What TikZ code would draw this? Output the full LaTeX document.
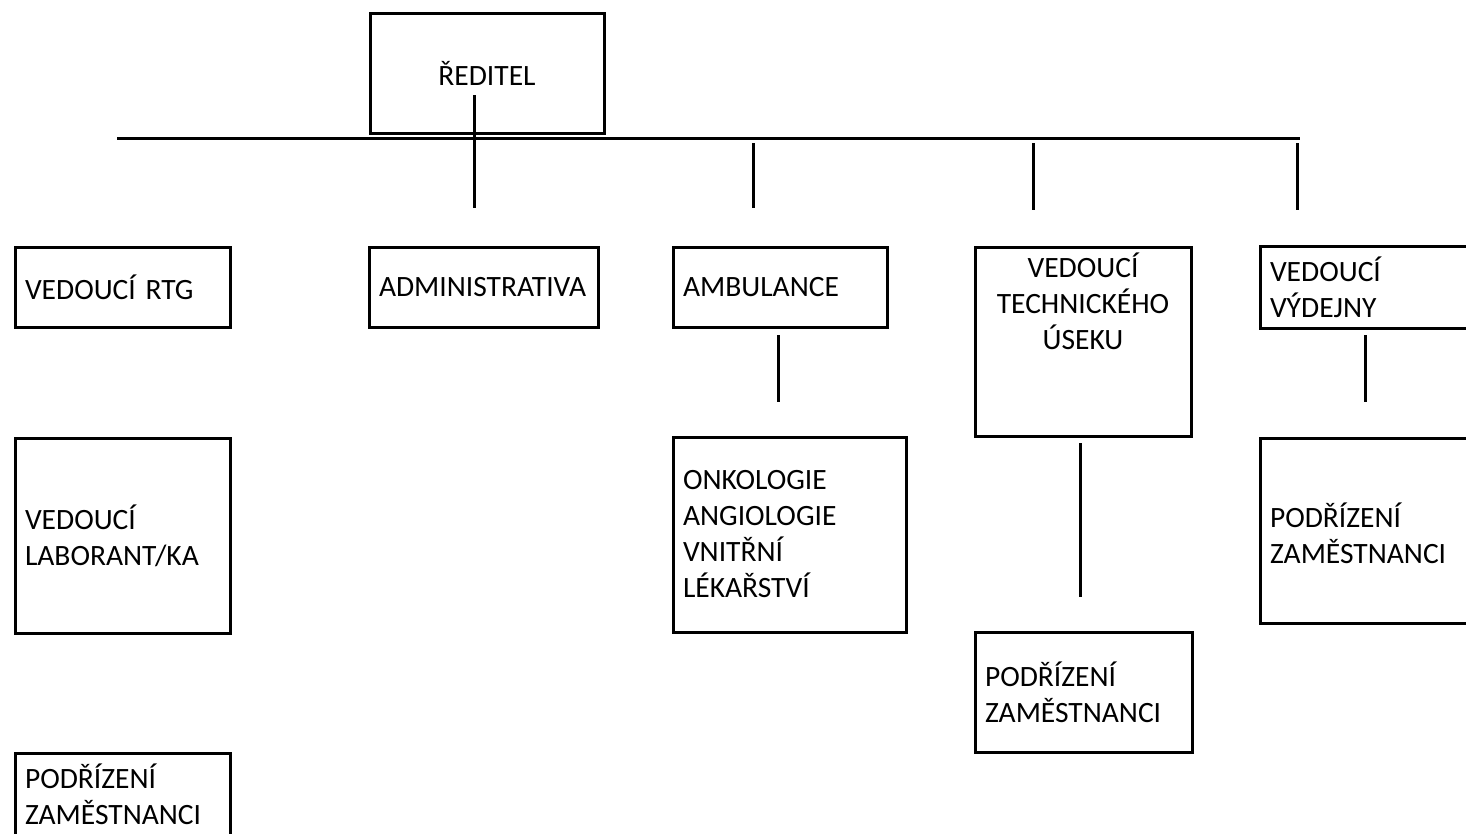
\documentclass[tikz,border=0pt]{standalone}
\usepackage{fontspec}
\setmainfont{Carlito}
\newcommand{\orgfont}{\fontsize{29.5}{36}\selectfont}

\begin{document}
\begin{tikzpicture}[x=1pt, y=-1pt, font=\orgfont,
    unit/.style={draw, line width=3pt, inner xsep=10pt, inner ysep=0pt, align=left},
    link/.style={line width=3pt}]
    \useasboundingbox (0,0) rectangle (1466,833);
    \clip (0,0) rectangle (1466,833);

    \node[unit, text width=214pt, align=center, minimum height=120pt] (reditel) at (487,73) {ŘEDITEL};

    \node[unit, text width=195pt, minimum height=80pt] (rtg) at (122.5,287) {VEDOUCÍ RTG};
    \node[unit, text width=209pt, minimum height=80pt] (admin) at (483.5,287) {ADMINISTRATIVA};
    \node[unit, text width=194pt, minimum height=80pt] (ambulance) at (780,287) {AMBULANCE};
    \node[unit, text width=196pt, align=center, anchor=north, inner ysep=8pt,
          text height=22pt, text depth=151pt] (technik) at (1083,246) {VEDOUCÍ\\TECHNICKÉHO\\ÚSEKU};
    \node[unit, text width=200pt, minimum height=82pt] (vydejna) at (1370,287) {VEDOUCÍ\\VÝDEJNY};

    \node[unit, text width=195pt, minimum height=195pt] (laborant) at (122.5,535.5) {VEDOUCÍ\\LABORANT/KA};
    \node[unit, text width=213pt, minimum height=195pt] (obory) at (789.5,534.5) {ONKOLOGIE\\ANGIOLOGIE\\VNITŘNÍ\\LÉKAŘSTVÍ};
    \node[unit, text width=200pt, minimum height=185pt, text height=30pt] (podrizeniR) at (1370,530.5) {PODŘÍZENÍ\\ZAMĚSTNANCI};
    \node[unit, text width=197pt, minimum height=120pt] (podrizeniM) at (1083.5,692) {PODŘÍZENÍ\\ZAMĚSTNANCI};
    \node[unit, text width=195pt, anchor=north, inner ysep=8pt,
          text height=27pt, text depth=120pt] (podrizeniL) at (122.5,752) {PODŘÍZENÍ\\ZAMĚSTNANCI};

    % main bar under the director
    \coordinate (barW) at (117,138);
    \coordinate (barE) at (1300,138);
    \draw[link] (barW) -- (barE);

    % short drops
    \foreach \n/\x/\ya/\yb in {reditel/474/95/208, ambulance/753/143/208,
                              technik/1033/143/210, vydejna/1297/143/210,
                              obory/778/335/402, techsub/1080/443/597,
                              vydsub/1365/335/402}{
        \coordinate (\n-top) at (\x,\ya);
        \coordinate (\n-end) at (\x,\yb);
        \draw[link] (\n-top) -- (\n-end);
    }
\end{tikzpicture}
\end{document}
